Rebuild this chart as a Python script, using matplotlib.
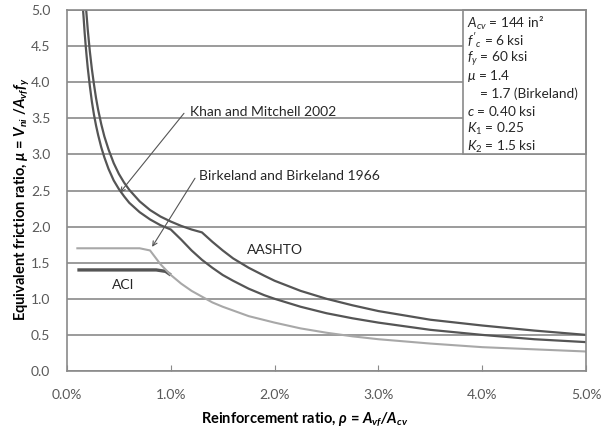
import matplotlib
matplotlib.use('Agg')
import matplotlib.pyplot as plt
from matplotlib.patches import Rectangle

plt.rcParams['font.family'] = ['Lato', 'DejaVu Sans']
plt.rcParams['mathtext.fontset'] = 'custom'
plt.rcParams['mathtext.rm'] = 'Lato'
plt.rcParams['mathtext.it'] = 'Lato:italic'
plt.rcParams['mathtext.bf'] = 'Lato:bold'
plt.rcParams['mathtext.bfit'] = 'Lato:bold:italic'

# reinforcement ratio (%) and equivalent friction ratio for each model
aashto_rho = [0.185, 0.19, 0.2, 0.21, 0.22, 0.24, 0.26, 0.28, 0.3, 0.33, 0.36, 0.4, 0.45, 0.5,
              0.55, 0.6, 0.7, 0.8, 0.9, 1.0, 1.1, 1.2, 1.3, 1.4, 1.5, 1.6, 1.75, 1.9, 2.0,
              2.25, 2.5, 2.75, 3.0, 3.5, 4.0, 4.5, 5.0]
aashto_mu = [5.0, 4.91, 4.73, 4.58, 4.43, 4.18, 3.97, 3.78, 3.62, 3.42, 3.25, 3.07, 2.88, 2.73,
             2.61, 2.51, 2.35, 2.23, 2.14, 2.07, 2.01, 1.96, 1.92, 1.79, 1.67, 1.56, 1.43, 1.32,
             1.25, 1.11, 1.0, 0.91, 0.83, 0.71, 0.63, 0.56, 0.50]

khan_rho = [0.155, 0.16, 0.17, 0.18, 0.19, 0.2, 0.22, 0.24, 0.26, 0.28, 0.3, 0.33, 0.36, 0.4,
            0.45, 0.5, 0.55, 0.6, 0.7, 0.8, 0.9, 1.0, 1.1, 1.2, 1.3, 1.4, 1.5, 1.6, 1.75, 1.9,
            2.0, 2.25, 2.5, 2.75, 3.0, 3.5, 4.0, 4.5, 5.0]
khan_mu = [5.0, 4.9, 4.69, 4.51, 4.35, 4.2, 3.95, 3.73, 3.55, 3.4, 3.27, 3.1, 2.96, 2.8,
           2.64, 2.52, 2.42, 2.33, 2.2, 2.1, 2.02, 1.96, 1.82, 1.67, 1.54, 1.43, 1.33, 1.25,
           1.14, 1.05, 1.0, 0.89, 0.8, 0.73, 0.67, 0.57, 0.5, 0.44, 0.40]

birk_rho = [0.1, 0.7, 0.8, 0.9, 1.0, 1.1, 1.2, 1.3, 1.4, 1.5, 1.75, 2.0, 2.25, 2.5, 2.75, 3.0,
            3.5, 4.0, 4.5, 5.0]
birk_mu = [1.7, 1.7, 1.67, 1.48, 1.33, 1.21, 1.11, 1.03, 0.95, 0.89, 0.76, 0.67, 0.59, 0.53,
           0.48, 0.44, 0.38, 0.33, 0.30, 0.27]

aci_rho = [0.1, 0.86, 0.95, 1.0]
aci_mu = [1.4, 1.4, 1.38, 1.33]

params = [r'$A_{cv}$ = 144 in²', r"$f'_c$ = 6 ksi", r'$f_y$ = 60 ksi', r'$\mu$ = 1.4',
          '= 1.7 (Birkeland)', r'$c$ = 0.40 ksi', r'$K_1$ = 0.25', r'$K_2$ = 1.5 ksi']

grid_c = '#8a8a8a'
dark = '#555555'
light = '#a8a8a8'
txt = '#262626'

fig = plt.figure(figsize=(6.1, 4.38), dpi=100)
ax = fig.add_axes([0.1098, 0.153, 0.851, 0.824])

ax.set_xlim(0, 5)
ax.set_ylim(0, 5)
ax.set_yticks([i * 0.5 for i in range(11)])
ax.set_xticks(range(6))
ax.set_xticklabels([f'{i:.1f}%' for i in range(6)])
ax.set_yticklabels([f'{i * 0.5:.1f}' for i in range(11)])
ax.tick_params(axis='x', direction='in', length=4, color=grid_c, labelsize=10,
               labelcolor='#595959', pad=13)
ax.tick_params(axis='y', length=0, labelsize=10, labelcolor='#595959', pad=12)
ax.yaxis.grid(True, color=grid_c, lw=1.2)
ax.set_axisbelow(True)
for s in ax.spines.values():
    s.set_color(grid_c)
    s.set_linewidth(1.2)

ax.plot(aci_rho, aci_mu, color=dark, lw=2.4, solid_capstyle='butt')
ax.plot(birk_rho, birk_mu, color=light, lw=1.5)
ax.plot(khan_rho, khan_mu, color=dark, lw=1.6)
ax.plot(aashto_rho, aashto_mu, color=dark, lw=1.6)

# parameter box in the upper right corner
ax.add_patch(Rectangle((3.815, 3.0), 5 - 3.815, 2.0, facecolor='white', edgecolor=grid_c,
                       lw=1.2, zorder=2.5, clip_on=False))
for i, line in enumerate(params):
    x = 3.98 if line.startswith('=') else 3.85
    ax.text(x, 4.82 - i * 0.245, line, fontsize=9.8, va='center', ha='left', color=txt,
            zorder=3)

arrow = dict(arrowstyle='->', color='#555555', lw=0.8, shrinkA=0, shrinkB=0, mutation_scale=8)
ax.text(1.185, 3.59, 'Khan and Mitchell 2002', fontsize=10, va='center', ha='left', color=txt)
ax.annotate('', xy=(0.51, 2.47), xytext=(1.127, 3.57), arrowprops=arrow)
ax.text(1.27, 2.70, 'Birkeland and Birkeland 1966', fontsize=10, va='center', ha='left',
        color=txt)
ax.annotate('', xy=(0.82, 1.72), xytext=(1.233, 2.67), arrowprops=arrow)
ax.text(1.73, 1.68, 'AASHTO', fontsize=10, va='center', ha='left', color=txt)
ax.text(0.43, 1.19, 'ACI', fontsize=10, va='center', ha='left', color=txt)

fig.text(0.5, 0.044, r'Reinforcement ratio, $\mathbfit{\rho}$ = $\mathbfit{A_{vf}/A_{cv}}$',
         fontsize=10.5, fontweight='bold', ha='center', va='center')
fig.text(0.036, 0.545, r'Equivalent friction ratio, $\mathbfit{\mu}$ = $\mathbfit{V_{ni}}$ /$\mathbfit{A_{vf}f_y}$',
         fontsize=10.5, fontweight='bold', ha='center', va='center', rotation=90)

fig.savefig('out.png', dpi=100)
